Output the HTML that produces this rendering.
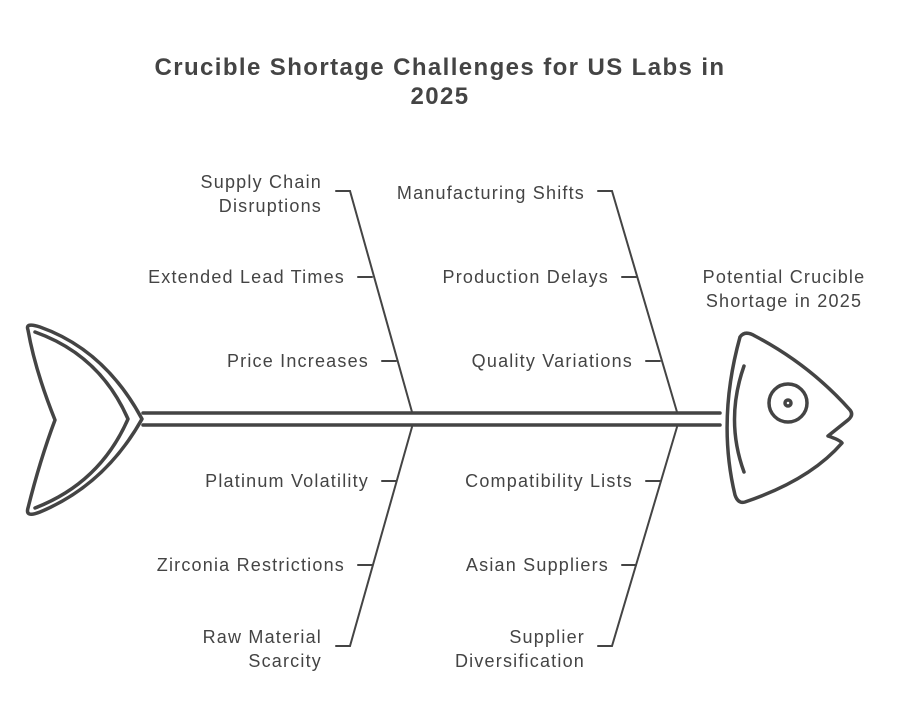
<!DOCTYPE html>
<html><head><meta charset="utf-8"><style>
body{margin:0;background:#fff;}
svg text{font-family:"Liberation Sans",sans-serif;fill:#444;}
</style></head><body>
<svg width="900" height="720" viewBox="0 0 900 720" xmlns="http://www.w3.org/2000/svg">
<text x="440" y="75" font-size="24" font-weight="bold" text-anchor="middle" letter-spacing="1.4">Crucible Shortage Challenges for US Labs in</text>
<text x="440" y="104" font-size="24" font-weight="bold" text-anchor="middle" letter-spacing="1.4">2025</text>
<g stroke="#444" stroke-width="3.5" fill="none" stroke-linecap="round" stroke-linejoin="round">
<line x1="143" y1="413" x2="720" y2="413"/>
<line x1="143" y1="425" x2="720" y2="425"/>
<path d="M28,330 Q25,322 40,327 Q105,350 142,419 Q105,485 40,512 Q25,518 28,508 Q40,460 55,420 Q35,370 28,330 Z"/>
<path d="M35,332 Q100,355 128,419 Q100,483 35,508"/>
<path d="M740,337 Q745,330 755,336 Q810,365 850,410 Q854,415 848,420 L828,436 Q840,440 842,443 Q810,480 745,502 Q738,504 735,495 Q717,420 740,337 Z"/>
<path d="M744,366 Q725,420 744,472"/>
<circle cx="788" cy="403" r="19"/>
<circle cx="788" cy="403" r="3"/>
</g>
<g stroke="#444" stroke-width="2" fill="none" stroke-linecap="round">
<path d="M336,191 L350,191 L412,412"/>
<line x1="358" y1="277" x2="372" y2="277"/><line x1="382" y1="361" x2="396" y2="361"/>
<path d="M336,646 L350,646 L412,427"/>
<line x1="358" y1="565" x2="372" y2="565"/><line x1="382" y1="481" x2="396" y2="481"/>
<path d="M598,191 L612,191 L677,412"/>
<line x1="622" y1="277" x2="636" y2="277"/><line x1="646" y1="361" x2="660" y2="361"/>
<path d="M598,646 L612,646 L677,427"/>
<line x1="622" y1="565" x2="636" y2="565"/><line x1="646" y1="481" x2="660" y2="481"/>
</g>
<g font-size="18" text-anchor="end" letter-spacing="1.2">
<text x="322" y="188">Supply Chain</text><text x="322" y="212">Disruptions</text>
<text x="345" y="283">Extended Lead Times</text>
<text x="369" y="367">Price Increases</text>
<text x="369" y="487">Platinum Volatility</text>
<text x="345" y="571">Zirconia Restrictions</text>
<text x="322" y="643">Raw Material</text><text x="322" y="667">Scarcity</text>
<text x="585" y="199">Manufacturing Shifts</text>
<text x="609" y="283">Production Delays</text>
<text x="633" y="367">Quality Variations</text>
<text x="633" y="487">Compatibility Lists</text>
<text x="609" y="571">Asian Suppliers</text>
<text x="585" y="643">Supplier</text><text x="585" y="667">Diversification</text>
</g>
<g font-size="18" text-anchor="middle" letter-spacing="1.2">
<text x="784" y="283">Potential Crucible</text>
<text x="784" y="307">Shortage in 2025</text>
</g>
</svg>
</body></html>
